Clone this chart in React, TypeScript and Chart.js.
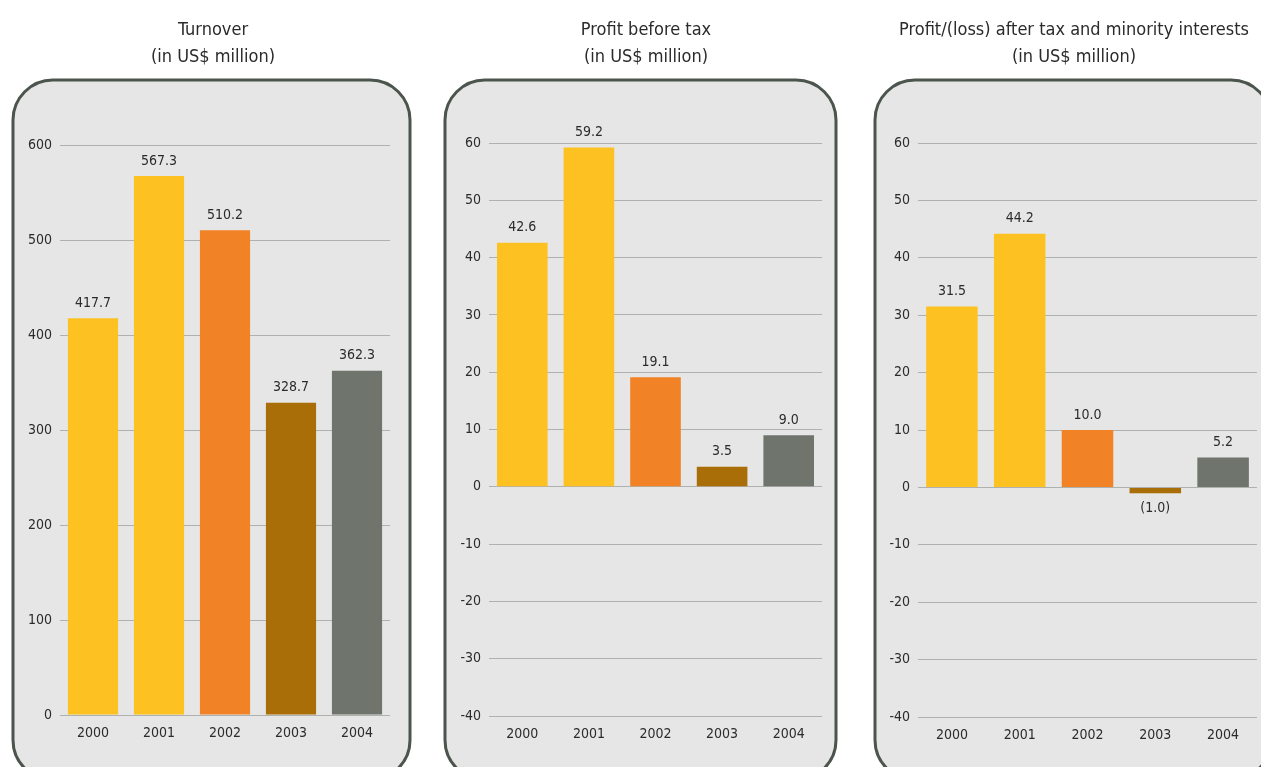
import React, { useEffect, useRef } from 'react';
import { Chart, registerables } from 'chart.js';

Chart.register(...registerables);

const years = ['2000', '2001', '2002', '2003', '2004'];
const turnover = [417.7, 567.3, 510.2, 328.7, 362.3];
const profitBeforeTax = [42.6, 59.2, 19.1, 3.5, 9.0];
const profitAfterTax = [31.5, 44.2, 10.0, -1.0, 5.2];
const barColors = ['#FDC222', '#FDC222', '#F28226', '#A96E07', '#6F756D'];

const titleTurnover = ['Turnover', '(in US$ million)'];
const titleBeforeTax = ['Profit before tax', '(in US$ million)'];
const titleAfterTax = ['Profit/(loss) after tax and minority interests', '(in US$ million)'];

const FONT = "'Liberation Sans Narrow', 'DejaVu Sans Condensed', 'Roboto', sans-serif";
const TEXT = '#2b2b2b';

type PanelDef = {
  left: number;
  width: number;
  title: string[];
  titleX: number;
  values: number[];
  min: number;
  max: number;
  step: number;
  rect: { x: number; y: number; w: number; h: number };
  padRight: number;
  padTop: number;
  yWidth: number;
  xHeight: number;
};

const panels: PanelDef[] = [
  {
    left: 0, width: 430, title: titleTurnover, titleX: 213, values: turnover, min: 0, max: 600, step: 100,
    rect: { x: 13, y: 80, w: 397, h: 700 }, padRight: 40, padTop: 145, yWidth: 60, xHeight: 52,
  },
  {
    left: 430, width: 430, title: titleBeforeTax, titleX: 216, values: profitBeforeTax, min: -40, max: 60, step: 10,
    rect: { x: 15, y: 80, w: 391, h: 700 }, padRight: 38, padTop: 143, yWidth: 59, xHeight: 51,
  },
  {
    left: 860, width: 401, title: titleAfterTax, titleX: 214, values: profitAfterTax, min: -40, max: 60, step: 10,
    rect: { x: 15, y: 80, w: 396, h: 700 }, padRight: 4, padTop: 143, yWidth: 58, xHeight: 50,
  },
];

const fmt = (v: number) => (v < 0 ? `(${Math.abs(v).toFixed(1)})` : v.toFixed(1));

function Panel({ def }: { def: PanelDef }) {
  const ref = useRef<HTMLCanvasElement | null>(null);
  useEffect(() => {
    if (!ref.current) return;
    const panelBg = {
      id: 'panelBg',
      beforeDraw(chart: any) {
        const ctx = chart.ctx;
        const { x, y, w, h } = def.rect;
        const r = 40;
        ctx.save();
        ctx.beginPath();
        ctx.moveTo(x + r, y);
        ctx.lineTo(x + w - r, y);
        ctx.arcTo(x + w, y, x + w, y + r, r);
        ctx.lineTo(x + w, y + h - r);
        ctx.arcTo(x + w, y + h, x + w - r, y + h, r);
        ctx.lineTo(x + r, y + h);
        ctx.arcTo(x, y + h, x, y + h - r, r);
        ctx.lineTo(x, y + r);
        ctx.arcTo(x, y, x + r, y, r);
        ctx.closePath();
        ctx.fillStyle = '#E5E6E5';
        ctx.fill();
        ctx.lineWidth = 3;
        ctx.strokeStyle = '#4B554D';
        ctx.stroke();
        // panel title
        ctx.font = `18px ${FONT}`;
        ctx.fillStyle = TEXT;
        ctx.textAlign = 'center';
        ctx.textBaseline = 'middle';
        def.title.forEach((line, i) => {
          ctx.fillText(line, def.titleX, 30 + i * 27);
        });
        ctx.restore();
      },
    };
    const valueLabels = {
      id: 'valueLabels',
      afterDatasetsDraw(chart: any) {
        const ctx = chart.ctx;
        const meta = chart.getDatasetMeta(0);
        const data = chart.data.datasets[0].data as number[];
        ctx.save();
        ctx.font = `14px ${FONT}`;
        ctx.fillStyle = TEXT;
        ctx.textAlign = 'center';
        ctx.textBaseline = 'middle';
        meta.data.forEach((bar: any, i: number) => {
          const v = data[i];
          const y = v < 0 ? bar.y + 15 : bar.y - 15;
          ctx.fillText(fmt(v), bar.x, y);
        });
        ctx.restore();
      },
    };
    const chart = new Chart(ref.current, {
      type: 'bar',
      data: {
        labels: years,
        datasets: [
          {
            data: def.values,
            backgroundColor: barColors,
            borderWidth: 0,
            barPercentage: 0.76,
            categoryPercentage: 1,
          },
        ],
      },
      options: {
        responsive: false,
        animation: false,
        devicePixelRatio: 1,
        layout: { padding: { left: 0, right: def.padRight, top: def.padTop, bottom: 0 } },
        plugins: {
          legend: { display: false },
          tooltip: { enabled: false },
          title: { display: false },
        },
        scales: {
          x: {
            grid: { display: false },
            border: { display: false },
            ticks: { color: TEXT, font: { family: FONT, size: 14 }, padding: 2 },
            afterFit(scale: any) {
              scale.height = def.xHeight;
            },
          },
          y: {
            min: def.min,
            max: def.max,
            grid: { color: '#AEB1AE', lineWidth: 1, drawTicks: false },
            border: { display: false },
            ticks: {
              stepSize: def.step,
              color: TEXT,
              font: { family: FONT, size: 14 },
              padding: 8,
            },
            afterFit(scale: any) {
              scale.width = def.yWidth;
            },
          },
        },
      },
      plugins: [panelBg, valueLabels],
    });
    return () => chart.destroy();
  }, [def]);
  return (
    <canvas
      ref={ref}
      width={def.width}
      height={767}
      style={{ position: 'absolute', left: def.left, top: 0, width: def.width, height: 767 }}
    />
  );
}

export default function App() {
  return (
    <div style={{ position: 'absolute', left: 0, top: 0, width: 1261, height: 767, background: '#ffffff', overflow: 'hidden' }}>
      {panels.map((p, i) => (
        <Panel key={i} def={p} />
      ))}
    </div>
  );
}
